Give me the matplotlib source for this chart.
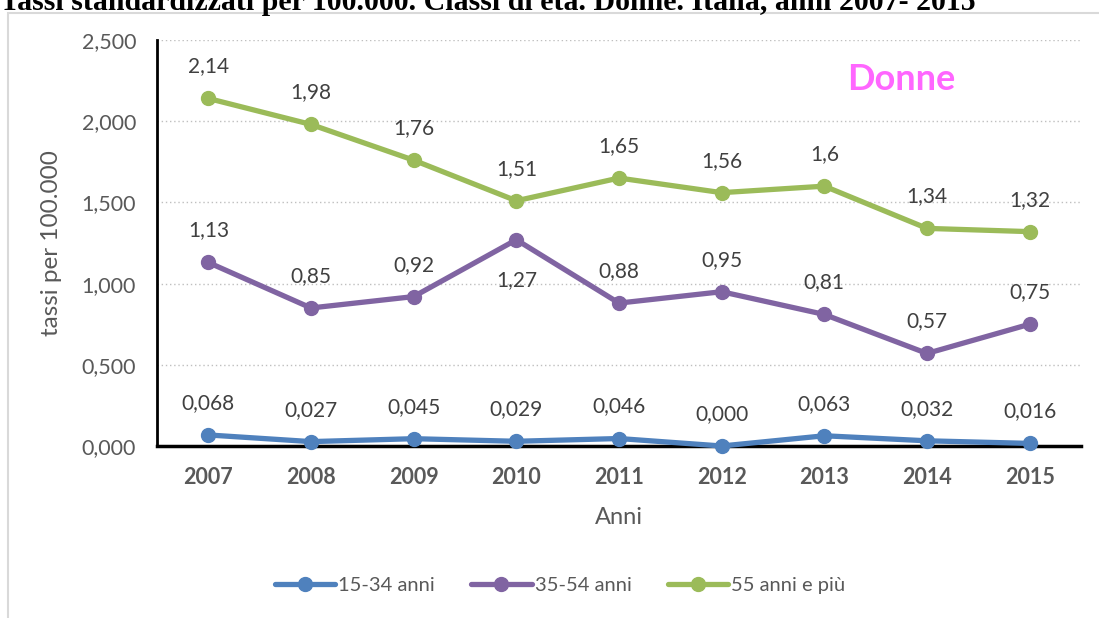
import matplotlib
matplotlib.use("Agg")
import matplotlib.pyplot as plt
from matplotlib.patches import Rectangle

# data
anni = ["2007", "2008", "2009", "2010", "2011", "2012", "2013", "2014", "2015"]
eta_15_34 = [0.068, 0.027, 0.045, 0.029, 0.046, 0.000, 0.063, 0.032, 0.016]
eta_35_54 = [1.13, 0.85, 0.92, 1.27, 0.88, 0.95, 0.81, 0.57, 0.75]
eta_55_piu = [2.14, 1.98, 1.76, 1.51, 1.65, 1.56, 1.6, 1.34, 1.32]
etichette_15_34 = ["0,068", "0,027", "0,045", "0,029", "0,046", "0,000", "0,063", "0,032", "0,016"]
etichette_35_54 = ["1,13", "0,85", "0,92", "1,27", "0,88", "0,95", "0,81", "0,57", "0,75"]
etichette_55_piu = ["2,14", "1,98", "1,76", "1,51", "1,65", "1,56", "1,6", "1,34", "1,32"]
y_ticks = [0, 0.5, 1.0, 1.5, 2.0, 2.5]
y_tick_labels = ["0,000", "0,500", "1,000", "1,500", "2,000", "2,500"]

plt.rcParams["font.family"] = ["Lato", "DejaVu Sans"]
GREY_TEXT = "#595959"

W, H = 1099, 618
fig = plt.figure(figsize=(W / 100, H / 100), dpi=100)

# chart frame
fig.patches.append(Rectangle((8 / W, -0.1), 1.2, 1 - 13 / H + 0.1, transform=fig.transFigure,
                             fill=False, edgecolor="#d9d9d9", linewidth=1.5))

# title of the page above the chart, cut by the top edge
fig.text(0.0, 1 - 10 / H, "Tassi standardizzati per 100.000. Classi di età. Donne. Italia, anni 2007- 2015",
         family="Liberation Serif", fontweight="bold", fontsize=21.5, va="baseline", ha="left")

ax = fig.add_axes([157 / W, 1 - 446 / H, (1081 - 157) / W, (446 - 40) / H])

x = list(range(len(anni)))
series = [
    (eta_15_34, etichette_15_34, "#4F81BD", "15-34 anni"),
    (eta_35_54, etichette_35_54, "#8064A2", "35-54 anni"),
    (eta_55_piu, etichette_55_piu, "#9BBB59", "55 anni e più"),
]
for vals, labs, col, name in series:
    ax.plot(x, vals, color=col, linewidth=3.8, marker="o", markersize=10, label=name,
            solid_capstyle="round", zorder=3, clip_on=False)
    for i, (v, s) in enumerate(zip(vals, labs)):
        # 1,27 in 2010 sits below its point
        if name == "35-54 anni" and anni[i] == "2010":
            ax.annotate(s, (i, v), xytext=(0, -29), textcoords="offset points",
                        ha="center", va="center", fontsize=15, color="#404040")
        else:
            ax.annotate(s, (i, v), xytext=(0, 23), textcoords="offset points",
                        ha="center", va="center", fontsize=15, color="#404040")

ax.set_xlim(-0.5, 8.5)
ax.set_ylim(0, 2.5)
ax.set_yticks(y_ticks)
ax.set_yticklabels(y_tick_labels, fontsize=15.5, color=GREY_TEXT)
ax.set_xticks(x)
ax.set_xticklabels(anni, fontsize=15.5, fontweight="bold", color=GREY_TEXT)
ax.tick_params(length=0)
ax.tick_params(axis="y", pad=15)
ax.tick_params(axis="x", pad=15)

ax.grid(axis="y", linestyle=(0, (1, 2)), color="#bfbfbf", linewidth=1)
ax.set_axisbelow(True)
for side in ["top", "right"]:
    ax.spines[side].set_visible(False)
ax.spines["left"].set_linewidth(2)
ax.spines["bottom"].set_linewidth(2.5)
ax.spines["left"].set_color("black")
ax.spines["bottom"].set_color("black")

ax.set_ylabel("tassi per 100.000", fontsize=17.5, color=GREY_TEXT)
ax.yaxis.set_label_coords((62 - 157) / (1081 - 157), 0.5)
ax.set_xlabel("Anni", fontsize=17, color=GREY_TEXT)
ax.xaxis.label.set_va("center")
ax.xaxis.set_label_coords((619 - 157) / (1081 - 157), (446 - 518) / (446 - 40))

ax.text((901 - 157) / (1081 - 157), (446 - 80) / (446 - 40), "Donne", transform=ax.transAxes,
        ha="center", va="center", fontsize=26, fontweight="bold", color="#FF66FF")

leg = fig.legend(loc="center", bbox_to_anchor=(560 / W, 1 - 585 / H), ncol=3, frameon=False,
                 fontsize=14.5, handlelength=3.0, columnspacing=1.8, handletextpad=0.15)
for t in leg.get_texts():
    t.set_color(GREY_TEXT)

fig.savefig("out.png", dpi=100)
